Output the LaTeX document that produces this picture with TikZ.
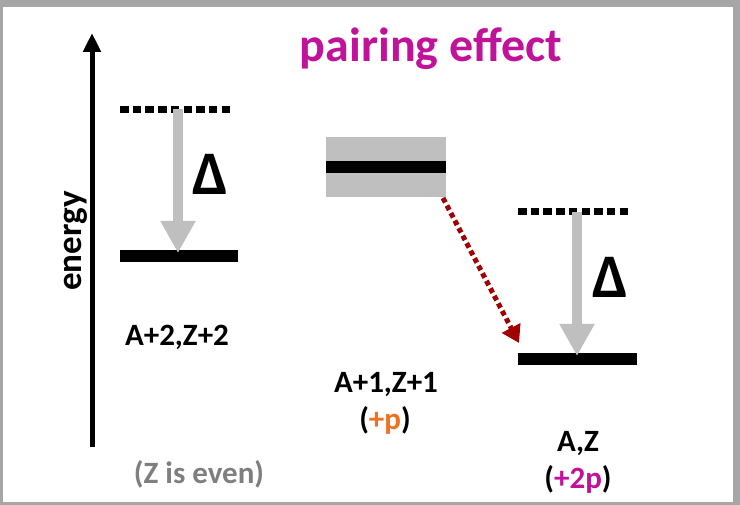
\documentclass[tikz,border=0pt]{standalone}
\usepackage{fontspec}
\setmainfont{Carlito}
\usepackage{tikz}
\usetikzlibrary{positioning, arrows.meta}
\definecolor{frameGrey}{HTML}{A6A6A6}
\definecolor{bandGrey}{HTML}{BFBFBF}
\definecolor{textGrey}{HTML}{7F7F7F}
\definecolor{titleMagenta}{HTML}{C0139A}
\definecolor{pOrange}{HTML}{F07020}
\definecolor{decayRed}{HTML}{A00000}

\begin{document}
\begin{tikzpicture}[x=1pt, y=-1pt, font=\bfseries,
    level/.style={line width=12pt},
    virtual/.style={line width=7pt, dash pattern=on 8.5pt off 4.2pt},
    gap/.style={bandGrey, line width=10pt, -{Triangle[width=33pt, length=32pt]}},
    delta/.style={anchor=base, font=\fontsize{62}{66}\selectfont\bfseries},
    lbl/.style={anchor=base, font=\fontsize{31}{35}\selectfont\bfseries}]
  % frame
  \fill[frameGrey] (0,0) rectangle (740,505);
  \fill[white] (3,7) rectangle (733,502);
  \useasboundingbox (0,0) rectangle (740,505);

  \node[anchor=base, text=titleMagenta, font=\fontsize{48}{52}\selectfont\bfseries] (title) at (431,62) {pairing effect};

  % energy axis
  \coordinate (ebot) at (92,447);
  \coordinate (etop) at (92,33);
  \draw[line width=5pt, -{Triangle[width=17pt, length=19pt]}] (ebot) -- (etop);
  \node[anchor=base, rotate=90, font=\fontsize{35}{40}\selectfont\bfseries] (elabel) at (81,241) {energy};

  % A+2,Z+2
  \draw[virtual] (120,109.5) -- (232,109.5);
  \draw[level] (120,256) -- (238,256);
  \coordinate (gapLtop) at (178,109);
  \coordinate (gapLbot) at (178,253);
  \draw[gap] (gapLtop) -- (gapLbot);
  \node[delta] (deltaL) at (210,195) {Δ};
  \node[lbl] (nucL) at (177,346) {A+2,Z+2};
  \node[lbl, text=textGrey] (even) at (199,483) {(Z is even)};

  % A+1,Z+1
  \fill[bandGrey] (326,137) rectangle (446,197);
  \draw[level] (326,167) -- (446,167);
  \node[lbl] (nucM) at (386,392) {A+1,Z+1};
  \node[lbl] (pM) at (385,430) {(\textcolor{pOrange}{+p})};

  % A,Z
  \draw[virtual] (518,212) -- (630,212);
  \draw[level] (518,359) -- (637,359);
  \coordinate (gapRtop) at (577,212);
  \coordinate (gapRbot) at (577,356);
  \draw[gap] (gapRtop) -- (gapRbot);
  \node[delta] (deltaR) at (610,298) {Δ};
  \node[lbl] (nucR) at (578,452) {A,Z};
  \node[lbl] (pR) at (578,488) {(\textcolor{titleMagenta}{+2p})};

  % decay
  \coordinate (dstart) at (443,198);
  \coordinate (dend) at (519,343);
  \draw[decayRed, line width=5pt, dash pattern=on 5pt off 3.5pt,
        -{Triangle[width=20pt, length=17pt]}] (dstart) -- (dend);
\end{tikzpicture}
\end{document}
